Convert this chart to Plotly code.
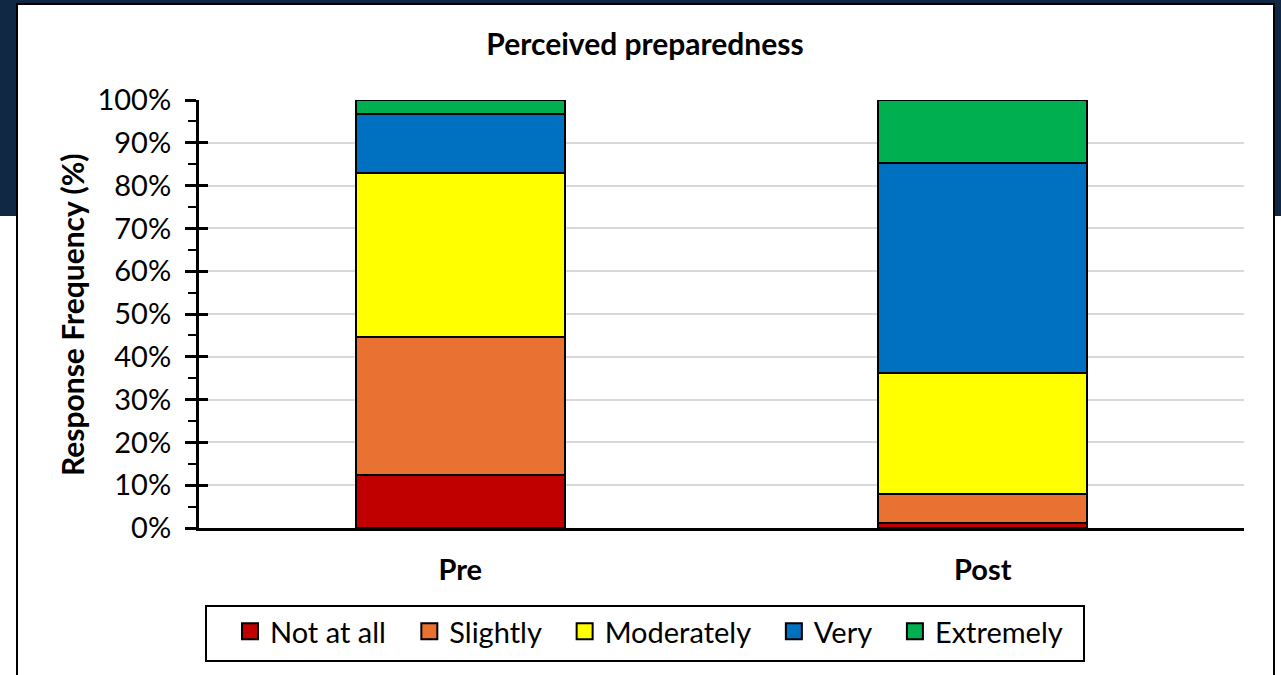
import plotly.graph_objects as go

# Survey responses, percent of respondents per group
groups = ["Pre", "Post"]
levels = ["Not at all", "Slightly", "Moderately", "Very", "Extremely"]
not_at_all = [12.4, 1.2]
slightly = [32.3, 6.7]
moderately = [38.2, 28.2]
very = [13.8, 49.1]
extremely = [3.3, 14.8]
y_ticks = [0, 10, 20, 30, 40, 50, 60, 70, 80, 90, 100]
y_tick_labels = [f"{v}%" for v in y_ticks]

series = [not_at_all, slightly, moderately, very, extremely]
colors = ["#C00000", "#E97132", "#FFFF00", "#0070C0", "#00B050"]

W, H = 1281, 675
L, R, T, B = 199, 1244, 100, 528  # plot-area pixel box
FONT = "Lato"
PAD = "\u00a0\u00a0\u2009"  # extra spacing between legend entries


def px_x(p):
    return (p - L) / (R - L)


def px_y(p):
    return (B - p) / (B - T)


fig = go.Figure()
for name, vals, col in zip(levels, series, colors):
    fig.add_trace(go.Bar(
        name=name, x=groups, y=vals, width=0.4, legendgroup=name,
        showlegend=False,
        marker=dict(color=col, line=dict(color="black", width=2)),
    ))

# legend keys: outlined squares, one per response level
for i, (name, col) in enumerate(zip(levels, colors)):
    label = name + (PAD if i < len(levels) - 1 else "")
    fig.add_trace(go.Scatter(
        x=[None], y=[None], mode="markers", name=label, legendgroup=name,
        marker=dict(symbol="square", size=16, color=col,
                    line=dict(color="black", width=2)),
        hoverinfo="skip",
    ))

# overlay axis carrying the inner half of the crossing major ticks
fig.add_trace(go.Scatter(x=groups, y=[None, None], yaxis="y2",
                         showlegend=False, hoverinfo="skip"))

shapes = [
    # dark banner behind the card
    dict(type="rect", xref="paper", yref="paper", layer="below",
         x0=px_x(0), x1=px_x(W), y0=px_y(216), y1=px_y(0),
         fillcolor="#102844", line=dict(width=0)),
    # white card with black border
    dict(type="rect", xref="paper", yref="paper", layer="below",
         x0=px_x(17), x1=px_x(1274), y0=px_y(690), y1=px_y(4),
         fillcolor="white", line=dict(color="black", width=2)),
    # legend frame
    dict(type="rect", xref="paper", yref="paper", layer="below",
         x0=px_x(206), x1=px_x(1084), y0=px_y(661), y1=px_y(606),
         fillcolor="white", line=dict(color="black", width=2)),
]

fig.update_layout(
    width=W, height=H,
    margin=dict(l=L, r=W - R, t=T, b=H - B),
    paper_bgcolor="white", plot_bgcolor="rgba(0,0,0,0)",
    barmode="stack", bargap=0.6,
    font=dict(family=FONT, color="black", size=29),
    title=dict(text="<b>Perceived preparedness</b>", x=645 / W, xanchor="center",
               y=1 - 44 / H, yanchor="middle", font=dict(size=30, family=FONT)),
    shapes=shapes,
    showlegend=True,
    legend=dict(orientation="h", x=px_x(649), xanchor="center",
                y=px_y(631.5), yanchor="middle",
                borderwidth=0, bgcolor="rgba(0,0,0,0)",
                font=dict(size=29, family=FONT), traceorder="normal",
                itemsizing="trace", itemclick=False, itemdoubleclick=False),
    xaxis=dict(showline=True, linecolor="black", linewidth=3, ticks="",
               tickfont=dict(size=29, family=FONT, weight="bold"),
               showgrid=False, ticklabelstandoff=14),
    yaxis=dict(range=[0, 100], tickvals=y_ticks, ticktext=y_tick_labels,
               showline=True, linecolor="black", linewidth=3,
               ticks="outside", ticklen=11, tickwidth=3, tickcolor="black",
               minor=dict(ticks="outside", ticklen=8, tickwidth=2,
                          tickcolor="black", dtick=5, showgrid=False),
               showgrid=True, gridcolor="#d9d9d9", gridwidth=2,
               zeroline=False, tickfont=dict(size=29, family=FONT),
               ticklabelstandoff=8),
    yaxis2=dict(range=[0, 100], overlaying="y", side="left", anchor="x",
                tickvals=y_ticks, ticks="inside", ticklen=9, tickwidth=3,
                tickcolor="black", showticklabels=False, showgrid=False,
                showline=False, zeroline=False),
    annotations=[dict(text="<b>Response Frequency (%)</b>", textangle=-90,
                      xref="paper", yref="paper", x=px_x(72), y=0.5,
                      xanchor="center", yanchor="middle", showarrow=False,
                      font=dict(size=30, family=FONT))],
)

fig.write_html("out.html")
